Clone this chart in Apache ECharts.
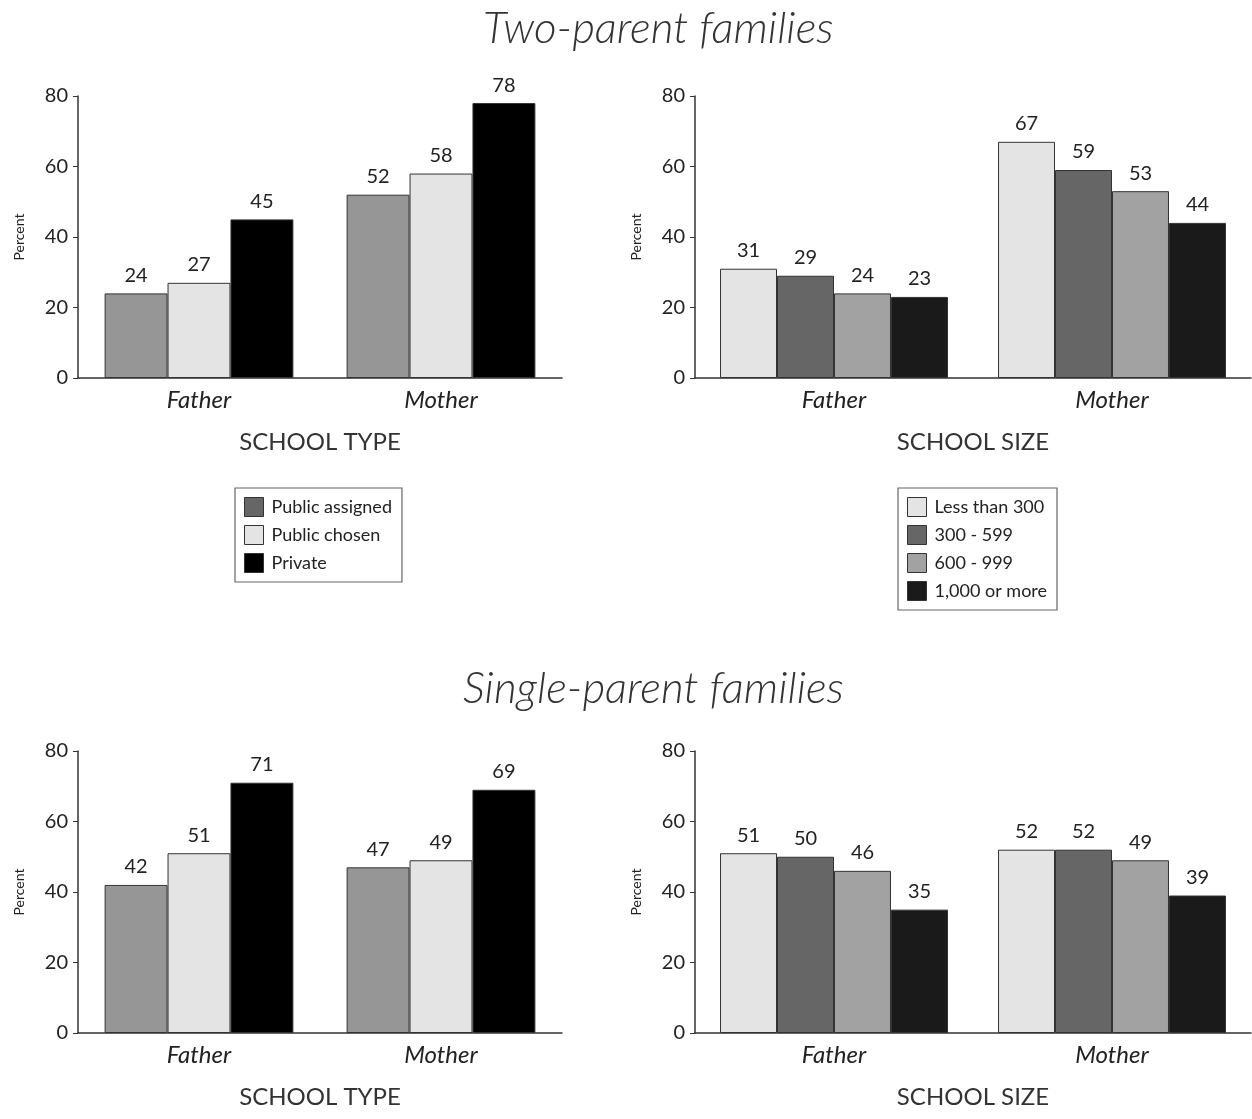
<!DOCTYPE html>
<html>
<head>
<meta charset="utf-8">
<script src="https://cdn.jsdelivr.net/npm/echarts@6/dist/echarts.min.js"></script>
<style>
html,body{margin:0;padding:0;background:#fff;}
#main{width:1252px;height:1119px;}
</style>
</head>
<body>
<div id="main"></div>
<script>
// ---- data ----
const categories = ['Father', 'Mother'];
const yTicks = [0, 20, 40, 60, 80];

const typeNames = ['Public assigned', 'Public chosen', 'Private'];
const twoParentType = {
  'Public assigned': [24, 52],
  'Public chosen': [27, 58],
  'Private': [45, 78]
};
const singleParentType = {
  'Public assigned': [42, 47],
  'Public chosen': [51, 49],
  'Private': [71, 69]
};

const sizeNames = ['Less than 300', '300 - 599', '600 - 999', '1,000 or more'];
const twoParentSize = {
  'Less than 300': [31, 67],
  '300 - 599': [29, 59],
  '600 - 999': [24, 53],
  '1,000 or more': [23, 44]
};
const singleParentSize = {
  'Less than 300': [51, 52],
  '300 - 599': [50, 52],
  '600 - 999': [46, 49],
  '1,000 or more': [35, 39]
};

const titles = ['Two-parent families', 'Single-parent families'];
const axisNames = ['SCHOOL TYPE', 'SCHOOL SIZE'];

// ---- styles ----
const FONT = 'Lato';
const typeColors = {'Public assigned': '#969696', 'Public chosen': '#e4e4e4', 'Private': '#000000'};
const typeLegendColors = {'Public assigned': '#666666', 'Public chosen': '#e4e4e4', 'Private': '#000000'};
const sizeColors = {'Less than 300': '#e4e4e4', '300 - 599': '#666666', '600 - 999': '#a2a2a2', '1,000 or more': '#1a1a1a'};

const grids = [
  {left: 78, top: 96, width: 484, height: 282},
  {left: 695, top: 96, width: 556, height: 282},
  {left: 78, top: 751, width: 484, height: 282},
  {left: 695, top: 751, width: 556, height: 282}
];

function xAxis(i, name) {
  return {
    type: 'category', gridIndex: i, data: categories,
    axisLine: {lineStyle: {color: '#333', width: 1.5}},
    axisTick: {show: false},
    axisLabel: {fontFamily: FONT, fontStyle: 'italic', fontSize: 24, color: '#222', margin: 10},
    name: name, nameLocation: 'middle', nameGap: 52,
    nameTextStyle: {fontFamily: FONT, fontSize: 24, color: '#333'}
  };
}
function yAxis(i) {
  return {
    type: 'value', gridIndex: i, min: yTicks[0], max: yTicks[yTicks.length - 1], interval: 20,
    axisLine: {show: true, lineStyle: {color: '#333', width: 1.5}},
    axisTick: {show: true, length: 5, lineStyle: {color: '#333'}},
    splitLine: {show: false},
    axisLabel: {fontFamily: FONT, fontSize: 20, color: '#222', margin: 10},
    name: 'Percent', nameLocation: 'middle', nameGap: 52, nameRotate: 90,
    nameTextStyle: {fontFamily: FONT, fontSize: 14, color: '#222'}
  };
}

const series = [];
function addSeries(names, dataMap, colors, idx, gap) {
  names.forEach(n => {
    series.push({
      type: 'bar', name: n, xAxisIndex: idx, yAxisIndex: idx,
      data: dataMap[n], barGap: '0%', barCategoryGap: gap,
      itemStyle: {color: colors[n], borderColor: '#333', borderWidth: 1},
      label: {show: true, position: 'top', distance: 8, fontFamily: FONT, fontSize: 20, color: '#222'}
    });
  });
}
addSeries(typeNames, twoParentType, typeColors, 0, '22%');
addSeries(sizeNames, twoParentSize, sizeColors, 1, '18%');
addSeries(typeNames, singleParentType, typeColors, 2, '22%');
addSeries(sizeNames, singleParentSize, sizeColors, 3, '18%');

const legendBase = {
  orient: 'vertical', itemWidth: 19, itemHeight: 19, itemGap: 8, icon: 'rect',
  borderColor: '#666', borderWidth: 1.2, padding: [9, 10, 9, 9],
  selectedMode: false,
  textStyle: {fontFamily: FONT, fontSize: 18, color: '#222', padding: [0, 0, 0, 3]},
  itemStyle: {borderColor: '#333', borderWidth: 1}
};

const titleStyle = {fontFamily: FONT, fontStyle: 'italic', fontWeight: 300, fontSize: 44, color: '#333'};

const option = {
  backgroundColor: '#fff',
  animation: false,
  title: [
    {text: titles[0], left: 478, top: 2, textStyle: titleStyle},
    {text: titles[1], left: 458, top: 662, textStyle: titleStyle}
  ],
  grid: grids,
  xAxis: [xAxis(0, axisNames[0]), xAxis(1, axisNames[1]), xAxis(2, axisNames[0]), xAxis(3, axisNames[1])],
  yAxis: [yAxis(0), yAxis(1), yAxis(2), yAxis(3)],
  legend: [
    Object.assign({}, legendBase, {left: 235, top: 488,
      data: typeNames.map(n => ({name: n, itemStyle: {color: typeLegendColors[n]}}))}),
    Object.assign({}, legendBase, {left: 898, top: 488,
      data: sizeNames.map(n => ({name: n}))})
  ],
  series: series
};

const chart = echarts.init(document.getElementById('main'));
chart.setOption(option);
</script>
</body>
</html>
